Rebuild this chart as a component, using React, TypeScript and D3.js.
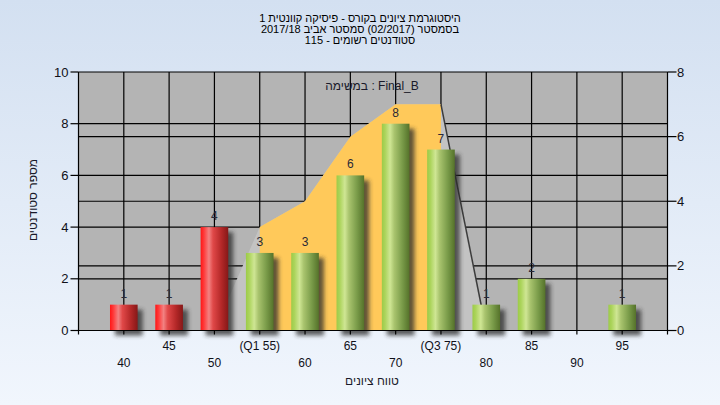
import React from 'react';
import * as d3 from 'd3';

// ---- data ----
const scoreBins = [40, 45, 50, 55, 60, 65, 70, 75, 80, 85, 95];
const binCounts = [1, 1, 4, 3, 3, 6, 8, 7, 1, 2, 1];
const failingBins = [40, 45, 50];

const bandScores = [50, 55, 60, 65, 70, 75, 80];
const bandValues = [0, 3.2, 4, 6, 7, 7, 0];
const bandFrom = 55;
const bandTo = 75;

const xTickValues = [40, 45, 50, 55, 60, 65, 70, 75, 80, 85, 90, 95];
const xTickLabels = ['40', '45', '50', '(Q1 55)', '60', '65', '70', '(Q3 75)', '80', '85', '90', '95'];
const yLeftTicks = [0, 2, 4, 6, 8, 10];
const yRightTicks = [0, 2, 4, 6, 8];

const titleLines = [
  'היסטוגרמת ציונים בקורס - פיסיקה קוונטית 1',
  'בסמסטר  (02/2017)  סמסטר אביב 2017/18',
  'סטודנטים רשומים - 115',
];
const taskLabel = 'במשימה : Final_B';
const yAxisTitle = 'מספר סטודנטים';
const xAxisTitle = 'טווח ציונים';

const W = 720;
const H = 405;
const FONT = '"Liberation Sans", Arial, sans-serif';

export default function App() {
  const left = 78.5;
  const right = 667.5;
  const top = 72;
  const bottom = 330.5;

  const x = d3.scaleLinear().domain([35, 100]).range([left, right]);
  const yL = d3.scaleLinear().domain([0, 10]).range([bottom, top]);
  const yR = d3.scaleLinear().domain([0, 8]).range([bottom, top]);

  const barW = (x(5) - x(0)) * 0.61;

  const areaGen = d3
    .area<number>()
    .x((_, i) => x(bandScores[i]))
    .y0(yR(0))
    .y1((d) => yR(d));
  const areaPath = areaGen(bandValues) || '';

  const lastTopIdx = bandScores.indexOf(bandTo);

  return (
    <svg
      width={W}
      height={H}
      style={{ position: 'fixed', left: 0, top: 0, display: 'block' }}
      fontFamily={FONT}
    >
      <defs>
        <linearGradient id="bg" x1="0" y1="0" x2="0" y2="1">
          <stop offset="0" stopColor="#d3e0f1" />
          <stop offset="1" stopColor="#f1f6fd" />
        </linearGradient>
        <linearGradient id="red" x1="0" y1="0" x2="1" y2="0">
          <stop offset="0" stopColor="#ff1616" />
          <stop offset="0.12" stopColor="#ff3a3a" />
          <stop offset="0.3" stopColor="#f28282" />
          <stop offset="0.45" stopColor="#e04848" />
          <stop offset="0.75" stopColor="#b42828" />
          <stop offset="1" stopColor="#861818" />
        </linearGradient>
        <linearGradient id="green" x1="0" y1="0" x2="1" y2="0">
          <stop offset="0" stopColor="#9ccb48" />
          <stop offset="0.12" stopColor="#acd45c" />
          <stop offset="0.3" stopColor="#cfe694" />
          <stop offset="0.45" stopColor="#a9c46e" />
          <stop offset="0.75" stopColor="#789a48" />
          <stop offset="1" stopColor="#55722a" />
        </linearGradient>
        <filter id="shadow" x="-50%" y="-50%" width="200%" height="200%">
          <feGaussianBlur stdDeviation="2" />
        </filter>
        <clipPath id="bandClip">
          <rect x={x(bandFrom)} y={top} width={x(bandTo) - x(bandFrom)} height={bottom - top} />
        </clipPath>
      </defs>

      <rect x={0} y={0} width={W} height={H} fill="url(#bg)" />

      {/* titles */}
      {titleLines.map((t, i) => (
        <text key={i} x={360} y={21.5 + i * 11.3} fontSize={11} textAnchor="middle" fill="#000">
          {t}
        </text>
      ))}

      {/* plot background */}
      <rect x={left} y={top} width={right - left} height={bottom - top} fill="#b4b4b4" />

      {/* grid lines */}
      {xTickValues.map((v) => (
        <line key={'vx' + v} x1={x(v)} x2={x(v)} y1={top} y2={bottom} stroke="#000" strokeWidth={1.2} />
      ))}
      {yLeftTicks.slice(1, -1).map((v) => (
        <line key={'hl' + v} x1={left} x2={right} y1={yL(v)} y2={yL(v)} stroke="#000" strokeWidth={1.2} />
      ))}
      {yRightTicks.slice(1, -1).map((v) => (
        <line key={'hr' + v} x1={left} x2={right} y1={yR(v)} y2={yR(v)} stroke="#000" strokeWidth={1.2} />
      ))}

      {/* band area */}
      <path d={areaPath} fill="#c3c3c3" />
      <path d={areaPath} fill="#ffc95a" clipPath="url(#bandClip)" />
      <line
        x1={x(bandScores[lastTopIdx])}
        y1={yR(bandValues[lastTopIdx])}
        x2={x(bandScores[lastTopIdx + 1])}
        y2={yR(bandValues[lastTopIdx + 1])}
        stroke="#3c3c3c"
        strokeWidth={1.5}
      />

      {/* task label */}
      <text x={372} y={90} fontSize={12} textAnchor="middle" fill="#1a1a2a">
        {taskLabel}
      </text>

      {/* bar shadows */}
      {scoreBins.map((s, i) => {
        const bx = x(s) - barW / 2;
        const by = yL(binCounts[i]);
        const h = yL(0) - by;
        return (
          <rect key={'s' + s} x={bx + 5} y={by + 5} width={barW} height={h} fill="#2a2a2a" opacity={0.75} filter="url(#shadow)" />
        );
      })}
      <line x1={left} x2={right} y1={top} y2={top} stroke="#000" strokeWidth={1.2} />

      {/* bars */}
      {scoreBins.map((s, i) => {
        const bx = x(s) - barW / 2;
        const by = yL(binCounts[i]);
        const h = yL(0) - by;
        return (
          <g key={'bb' + s}>
            <rect x={bx} y={by} width={barW} height={h} fill={failingBins.includes(s) ? 'url(#red)' : 'url(#green)'} />
            <text x={x(s)} y={by - 7} fontSize={12} textAnchor="middle" fill="#2a2a38">
              {binCounts[i]}
            </text>
          </g>
        );
      })}

      <line x1={left} x2={right} y1={bottom} y2={bottom} stroke="#000" strokeWidth={1.2} />
      <line x1={left} x2={left} y1={top} y2={bottom + 4} stroke="#000" strokeWidth={1.2} />
      <line x1={right} x2={right} y1={top} y2={bottom + 4} stroke="#000" strokeWidth={1.2} />

      {/* x ticks */}
      {xTickValues.map((v, i) => (
        <g key={'xt' + v}>
          <line x1={x(v)} x2={x(v)} y1={bottom} y2={bottom + 4} stroke="#000" strokeWidth={1.2} />
          <text
            x={x(v)}
            y={i % 2 === 1 ? 349.5 : 367}
            fontSize={12}
            textAnchor="middle"
            fill="#101018"
          >
            {xTickLabels[i]}
          </text>
        </g>
      ))}

      {/* left y ticks */}
      {yLeftTicks.map((v) => (
        <g key={'yl' + v}>
          <line x1={left - 8} x2={left} y1={yL(v)} y2={yL(v)} stroke="#000" strokeWidth={1.2} />
          <text x={68.5} y={yL(v) + 4.5} fontSize={13} textAnchor="end" fill="#101018">
            {v}
          </text>
        </g>
      ))}

      {/* right y ticks */}
      {yRightTicks.map((v) => (
        <g key={'yr' + v}>
          <line x1={right} x2={right + 9} y1={yR(v)} y2={yR(v)} stroke="#000" strokeWidth={1.2} />
          <text x={677} y={yR(v) + 4.5} fontSize={13} textAnchor="start" fill="#101018">
            {v}
          </text>
        </g>
      ))}

      {/* axis titles */}
      <text
        transform={`translate(37, 200) rotate(-90)`}
        fontSize={12}
        textAnchor="middle"
        fill="#1a1a2a"
      >
        {yAxisTitle}
      </text>
      <text x={372} y={385} fontSize={12} textAnchor="middle" fill="#1a1a2a">
        {xAxisTitle}
      </text>
    </svg>
  );
}
